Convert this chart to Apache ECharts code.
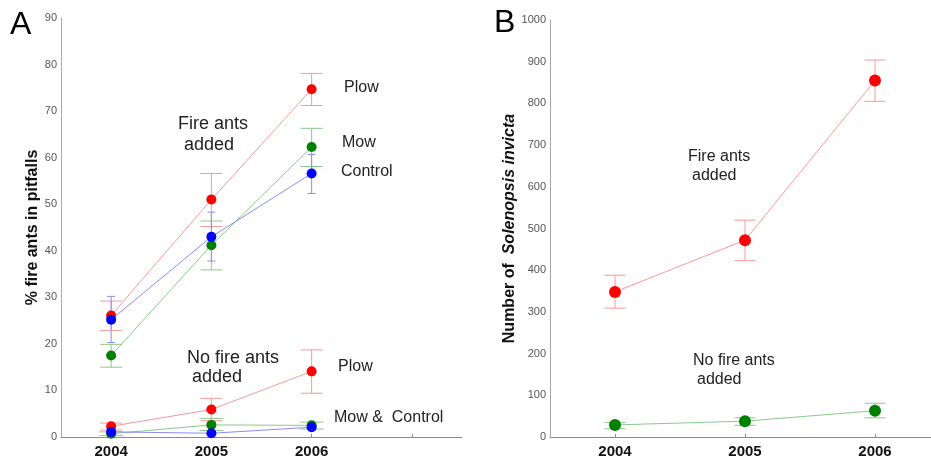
<!DOCTYPE html>
<html>
<head>
<meta charset="utf-8">
<script src="https://cdn.jsdelivr.net/npm/echarts@6/dist/echarts.min.js"></script>
<style>html,body{margin:0;padding:0;background:#fff}#c{width:931px;height:458px}</style>
</head>
<body>
<div id="c"></div>
<script>
// ---- Data ----
const yearsA = ['2004', '2005', '2006', ''];
const yearsB = ['2004', '2005', '2006'];

// Panel A: fire ants added
const plowFire = [26.1, 51.0, 74.7];
const plowFireHi = [29.2, 56.6, 78.1];
const plowFireLo = [22.9, 45.2, 71.2];
const mowFire = [17.5, 41.2, 62.3];
const mowFireHi = [19.9, 46.4, 66.3];
const mowFireLo = [15.0, 35.9, 58.1];
const ctrlFire = [25.2, 43.0, 56.6];
const ctrlFireHi = [30.2, 48.3, 60.7];
const ctrlFireLo = [20.3, 37.8, 52.3];
// Panel A: no fire ants added
const plowNo = [2.3, 5.9, 14.1];
const plowNoHi = [3.0, 8.3, 18.7];
const plowNoLo = [1.5, 3.5, 9.4];
const mowNo = [0.7, 2.6, 2.5];
const mowNoHi = [1.1, 4.0, 3.2];
const mowNoLo = [0.3, 1.4, 1.7];
const ctrlNo = [1.1, 0.8, 2.1];
const ctrlNoHi = [1.6, 1.2, 2.6];
const ctrlNoLo = [0.6, 0.4, 1.6];

// Panel B
const fireB = [348, 472, 855];
const fireBHi = [388, 520, 904];
const fireBLo = [309, 423, 805];
const noB = [29, 38, 63];
const noBHi = [35, 46, 81];
const noBLo = [20, 28, 46];

const yTicksA = {min: 0, max: 90, interval: 10};
const yTicksB = {min: 0, max: 1000, interval: 100};

// ---- Chart ----
const RED = '#ff0000', GREEN = '#008000', BLUE = '#0000ff';
const RED_L = '#f49a9a', GREEN_L = '#8cc98c', BLUE_L = '#8c8cf4';
const FONT = '"Liberation Sans", Arial, sans-serif';

function errData(lo, hi) { return lo.map((l, i) => [i, l, hi[i]]); }
function errSeries(axisIdx, lo, hi, color, half, z) {
  return {
    type: 'custom', xAxisIndex: axisIdx, yAxisIndex: axisIdx, z: z, silent: true,
    data: errData(lo, hi),
    renderItem: function (params, api) {
      const p1 = api.coord([api.value(0), api.value(1)]);
      const p2 = api.coord([api.value(0), api.value(2)]);
      const st = {stroke: color, lineWidth: 1};
      return {type: 'group', children: [
        {type: 'line', shape: {x1: p1[0], y1: p1[1], x2: p2[0], y2: p2[1]}, style: st},
        {type: 'line', shape: {x1: p1[0] - half, y1: p1[1], x2: p1[0] + half, y2: p1[1]}, style: st},
        {type: 'line', shape: {x1: p2[0] - half, y1: p2[1], x2: p2[0] + half, y2: p2[1]}, style: st}
      ]};
    }
  };
}
function lineSeries(axisIdx, data, color, lineColor, size, z) {
  return {
    type: 'line', xAxisIndex: axisIdx, yAxisIndex: axisIdx, data: data, z: z,
    symbol: 'circle', symbolSize: size, showSymbol: true,
    itemStyle: {color: color, borderWidth: 0},
    lineStyle: {color: lineColor, width: 1},
    emphasis: {disabled: true}, animation: false
  };
}

const xAxisBase = {
  type: 'category', boundaryGap: true,
  axisLine: {lineStyle: {color: '#8a8a8a', width: 1}},
  axisTick: {show: true, alignWithLabel: true, length: -3, lineStyle: {color: '#8a8a8a'}},
  axisLabel: {color: '#111', fontWeight: 'bold', fontSize: 15, fontFamily: FONT, margin: 7},
  splitLine: {show: false}
};
const yAxisBase = {
  type: 'value',
  axisLine: {show: true, lineStyle: {color: '#a8a8a8', width: 1}},
  axisTick: {show: false},
  axisLabel: {color: '#555', fontSize: 11, fontFamily: FONT, margin: 4, formatter: function (v) { return String(v); }},
  splitLine: {show: false},
  nameLocation: 'middle',
  nameTextStyle: {color: '#111', fontWeight: 'bold', fontSize: 16, fontFamily: FONT}
};

function txt(x, y, s, size) {
  return {type: 'text', x: x, y: y, style: {text: s, fill: '#222', font: size + 'px ' + FONT, textVerticalAlign: 'middle', textAlign: 'left'}};
}

const option = {
  animation: false,
  backgroundColor: '#fff',
  grid: [
    {left: 61, top: 18, width: 401, bottom: 21, outerBoundsMode: 'none', containLabel: false},
    {left: 550, top: 20, width: 390, bottom: 21, outerBoundsMode: 'none', containLabel: false}
  ],
  xAxis: [
    Object.assign({}, xAxisBase, {gridIndex: 0, data: yearsA}),
    Object.assign({}, xAxisBase, {gridIndex: 1, data: yearsB})
  ],
  yAxis: [
    Object.assign({}, yAxisBase, {gridIndex: 0, min: yTicksA.min, max: yTicksA.max, interval: yTicksA.interval,
      name: '% fire ants in pitfalls', nameGap: 20}),
    Object.assign({}, yAxisBase, {gridIndex: 1, min: yTicksB.min, max: yTicksB.max, interval: yTicksB.interval,
      name: '{b|Number of  }{i|Solenopsis invicta}', nameGap: 24,
      nameTextStyle: {color: '#111', fontWeight: 'bold', fontSize: 16, fontFamily: FONT,
        rich: {b: {fontWeight: 'bold', fontSize: 16, fontFamily: FONT, color: '#111'},
               i: {fontWeight: 'bold', fontStyle: 'italic', fontSize: 16, fontFamily: FONT, color: '#111'}}}})
  ],
  series: [
    errSeries(0, plowFireLo, plowFireHi, RED_L, 11, 1),
    errSeries(0, mowFireLo, mowFireHi, GREEN_L, 11, 1),
    errSeries(0, ctrlFireLo, ctrlFireHi, BLUE_L, 4, 1),
    errSeries(0, plowNoLo, plowNoHi, RED_L, 11, 1),
    errSeries(0, mowNoLo, mowNoHi, GREEN_L, 12, 1),
    errSeries(0, ctrlNoLo, ctrlNoHi, BLUE_L, 4, 1),
    lineSeries(0, plowFire, RED, RED_L, 10, 3),
    lineSeries(0, mowFire, GREEN, GREEN_L, 10, 4),
    lineSeries(0, ctrlFire, BLUE, BLUE_L, 10, 5),
    lineSeries(0, plowNo, RED, RED_L, 10, 3),
    lineSeries(0, mowNo, GREEN, GREEN_L, 10, 4),
    lineSeries(0, ctrlNo, BLUE, BLUE_L, 10, 5),
    errSeries(1, fireBLo, fireBHi, RED_L, 10.5, 1),
    errSeries(1, noBLo, noBHi, GREEN_L, 10.5, 1),
    lineSeries(1, fireB, RED, RED_L, 12, 3),
    lineSeries(1, noB, GREEN, GREEN_L, 12, 3)
  ],
  graphic: [
    {type: 'text', x: 10, y: 25, style: {text: 'A', fill: '#000', font: '32px ' + FONT, textVerticalAlign: 'middle'}},
    {type: 'text', x: 494, y: 23, style: {text: 'B', fill: '#000', font: '32px ' + FONT, textVerticalAlign: 'middle'}},
    txt(178, 124, 'Fire ants', 18),
    txt(184, 145, 'added', 18),
    txt(344, 88, 'Plow', 16),
    txt(342, 143, 'Mow', 16),
    txt(341, 172, 'Control', 16),
    txt(187, 358, 'No fire ants', 18),
    txt(192, 377, 'added', 18),
    txt(338, 367, 'Plow', 16),
    txt(334, 418, 'Mow &  Control', 16),
    txt(688, 157, 'Fire ants', 16),
    txt(692, 176, 'added', 16),
    txt(693, 361, 'No fire ants', 16),
    txt(697, 380, 'added', 16)
  ]
};
const chart = echarts.init(document.getElementById('c'), null, {renderer: 'canvas'});
chart.setOption(option);
</script>
</body>
</html>
